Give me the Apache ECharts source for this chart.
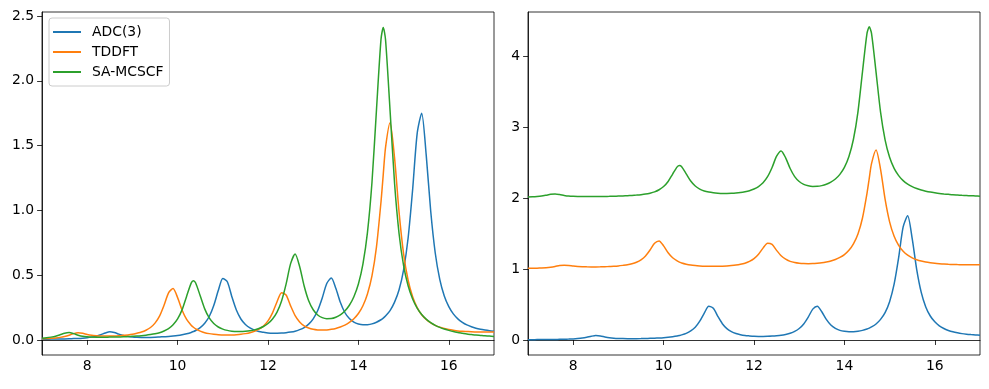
<!DOCTYPE html>
<html>
<head>
<meta charset="utf-8">
<script src="https://cdn.jsdelivr.net/npm/echarts@6/dist/echarts.min.js"></script>
<style>
html,body{margin:0;padding:0;background:#fff;}
#chart{width:989px;height:389px;}
</style>
</head>
<body>
<div id="chart"></div>
<script>
// Excitation energy grid (shared by all spectra)
const energies = [
  7.0,7.1,7.2,7.3,7.4,7.5,7.6,7.7,7.8,7.9,
  8.0,8.1,8.2,8.3,8.4,8.5,8.6,8.7,8.8,8.9,
  9.0,9.1,9.2,9.3,9.4,9.5,9.6,9.7,9.8,9.9,
  10.0,10.1,10.2,10.3,10.35,10.4,10.5,10.6,10.7,10.8,10.9,
  11.0,11.1,11.2,11.3,11.4,11.5,11.6,11.7,11.8,11.9,
  12.0,12.1,12.2,12.3,12.4,12.5,12.6,12.7,12.8,12.9,
  13.0,13.1,13.2,13.3,13.4,13.5,13.6,13.7,13.8,13.9,
  14.0,14.1,14.2,14.3,14.4,14.5,14.55,14.6,14.7,14.8,14.9,
  15.0,15.1,15.2,15.3,15.4,15.5,15.6,15.7,15.8,15.9,
  16.0,16.1,16.2,16.3,16.4,16.5,16.6,16.7,16.8,16.9,17.0
];

const adc3 = [
  0.006,0.006,0.007,0.007,0.008,0.008,0.009,0.011,0.012,0.014,
  0.017,0.022,0.029,0.040,0.054,0.064,0.058,0.045,0.034,0.027,
  0.023,0.021,0.020,0.020,0.020,0.021,0.023,0.025,0.027,0.030,
  0.034,0.040,0.048,0.058,0.065,0.073,0.095,0.129,0.181,0.266,0.381,
  0.475,0.449,0.334,0.231,0.162,0.120,0.093,0.076,0.065,0.059,
  0.054,0.052,0.052,0.053,0.056,0.061,0.068,0.080,0.096,0.122,
  0.163,0.227,0.324,0.436,0.478,0.399,0.291,0.212,0.165,0.137,
  0.123,0.117,0.118,0.124,0.137,0.156,0.169,0.185,0.227,0.292,0.387,
  0.541,0.787,1.161,1.593,1.750,1.428,0.993,0.671,0.467,0.339,
  0.257,0.201,0.163,0.136,0.116,0.102,0.091,0.083,0.077,0.072,0.068
];

const tddft = [
  0.010,0.011,0.013,0.016,0.020,0.027,0.037,0.049,0.055,0.051,
  0.042,0.036,0.033,0.031,0.030,0.030,0.031,0.033,0.036,0.039,
  0.044,0.052,0.061,0.075,0.096,0.130,0.184,0.268,0.364,0.397,
  0.327,0.230,0.159,0.114,0.098,0.085,0.068,0.056,0.049,0.044,0.040,
  0.039,0.038,0.039,0.041,0.044,0.049,0.056,0.067,0.083,0.108,
  0.147,0.209,0.295,0.365,0.347,0.263,0.188,0.139,0.109,0.092,
  0.082,0.077,0.076,0.077,0.082,0.089,0.100,0.114,0.135,0.164,
  0.204,0.264,0.355,0.494,0.719,1.066,1.278,1.484,1.676,1.405,0.985,
  0.665,0.461,0.333,0.250,0.195,0.158,0.132,0.113,0.099,0.089,
  0.081,0.075,0.070,0.067,0.065,0.063,0.062,0.061,0.061,0.061,0.061
];

const samcscf = [
  0.014,0.017,0.022,0.029,0.040,0.052,0.057,0.049,0.037,0.028,
  0.024,0.022,0.021,0.021,0.021,0.022,0.022,0.023,0.024,0.026,
  0.028,0.030,0.033,0.037,0.042,0.048,0.056,0.069,0.087,0.117,
  0.162,0.234,0.338,0.439,0.457,0.440,0.341,0.240,0.170,0.127,0.100,
  0.084,0.074,0.068,0.065,0.065,0.067,0.071,0.078,0.089,0.104,
  0.127,0.162,0.215,0.301,0.431,0.589,0.664,0.567,0.416,0.302,
  0.233,0.193,0.172,0.164,0.165,0.175,0.194,0.224,0.268,0.334,
  0.432,0.585,0.828,1.215,1.777,2.320,2.412,2.319,1.774,1.209,0.820,
  0.574,0.418,0.316,0.246,0.197,0.161,0.134,0.113,0.097,0.084,
  0.074,0.065,0.058,0.052,0.046,0.042,0.038,0.035,0.032,0.030,0.027
];

const seriesNames = ['ADC(3)', 'TDDFT', 'SA-MCSCF'];
const seriesValues = [adc3, tddft, samcscf];
const stackOffsets = [0, 1, 2];          // vertical offsets used in the right panel
const colors = ['#1f77b4', '#ff7f0e', '#2ca02c'];

const xTicks = [8, 10, 12, 14, 16];
const leftYTicks = [0, 0.5, 1.0, 1.5, 2.0, 2.5];
const rightYTicks = [0, 1, 2, 3, 4];

const FONT = 'DejaVu Sans';
const FS = 13.9;

function xAxisCfg(gi) {
  return {
    type: 'value', gridIndex: gi, min: 7, max: 17,
    axisLine: { show: true, lineStyle: { color: '#000', width: 0.8 } },
    axisTick: { show: true, customValues: xTicks, length: 4.9, lineStyle: { color: '#000', width: 0.8 } },
    axisLabel: { customValues: xTicks, color: '#000', fontFamily: FONT, fontSize: FS, margin: 4 },
    splitLine: { show: false }
  };
}
function yAxisCfg(gi, min, max, ticks, fmt) {
  return {
    type: 'value', gridIndex: gi, min: min, max: max,
    axisLine: { show: true, lineStyle: { color: '#000', width: 0.8 } },
    axisTick: { show: true, customValues: ticks, length: 4.9, lineStyle: { color: '#000', width: 0.8 } },
    axisLabel: { customValues: ticks, color: '#000', fontFamily: FONT, fontSize: FS, margin: 8, formatter: fmt },
    splitLine: { show: false }
  };
}

const series = [];
seriesNames.forEach((name, k) => {
  series.push({
    name: name, type: 'line', xAxisIndex: 0, yAxisIndex: 0,
    data: energies.map((e, i) => [e, seriesValues[k][i]]),
    symbol: 'none', showSymbol: false, smooth: 0.25,
    lineStyle: { color: colors[k], width: 1.5 }, itemStyle: { color: colors[k] },
    animation: false
  });
});
seriesNames.forEach((name, k) => {
  series.push({
    name: name, type: 'line', xAxisIndex: 1, yAxisIndex: 1,
    data: energies.map((e, i) => [e, seriesValues[k][i] + stackOffsets[k]]),
    symbol: 'none', showSymbol: false, smooth: 0.25,
    lineStyle: { color: colors[k], width: 1.5 }, itemStyle: { color: colors[k] },
    animation: false
  });
});

const chart = echarts.init(document.getElementById('chart'), null, { renderer: 'canvas' });
chart.setOption({
  animation: false,
  backgroundColor: '#fff',
  grid: [
    { left: 42, top: 12, width: 452, height: 343, show: true, borderColor: '#000', borderWidth: 0.8, containLabel: false },
    { left: 528, top: 12, width: 452, height: 343, show: true, borderColor: '#000', borderWidth: 0.8, containLabel: false }
  ],
  xAxis: [xAxisCfg(0), xAxisCfg(1)],
  yAxis: [
    yAxisCfg(0, -0.116, 2.531, leftYTicks, v => v.toFixed(1)),
    yAxisCfg(1, -0.21, 4.62, rightYTicks, v => String(Math.round(v)))
  ],
  legend: {
    data: seriesNames, orient: 'vertical', left: 49, top: 18,
    icon: 'rect', itemWidth: 28, itemHeight: 2, itemGap: 4,
    padding: [6, 6, 6, 4],
    borderColor: '#cccccc', borderWidth: 1, borderRadius: 3,
    backgroundColor: 'rgba(255,255,255,0.8)',
    textStyle: { color: '#000', fontFamily: FONT, fontSize: FS, lineHeight: 16, padding: [0, 0, 0, 6] }
  },
  series: series
});
</script>
</body>
</html>
